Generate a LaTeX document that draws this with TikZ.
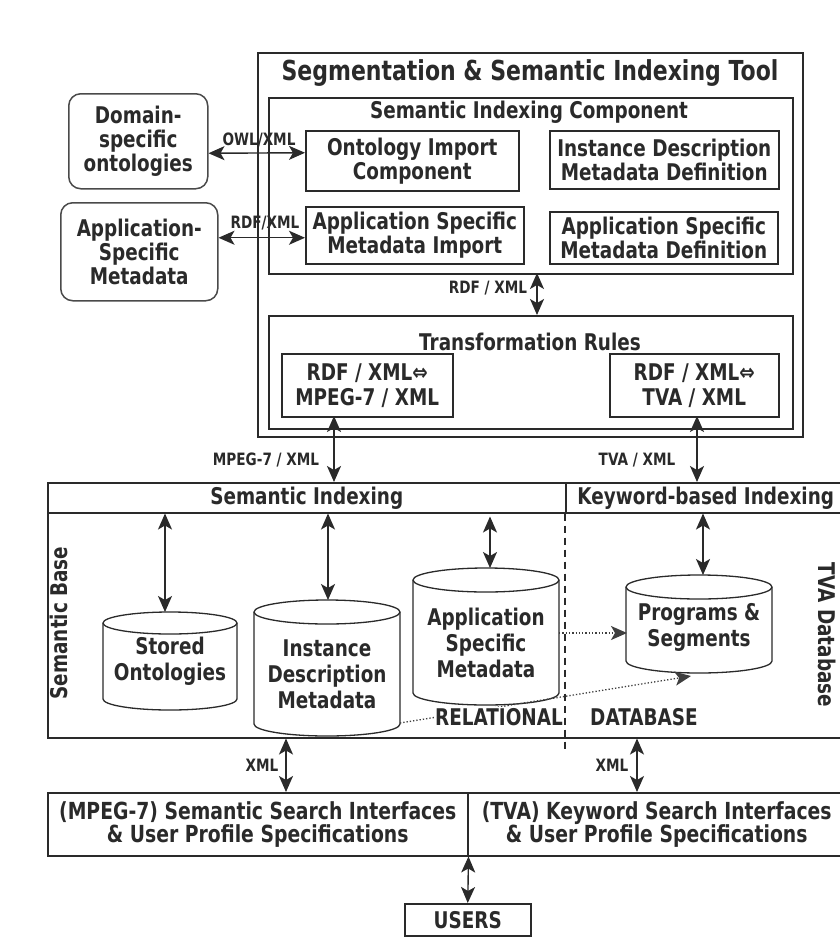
\documentclass[tikz,border=0pt]{standalone}
\usepackage{fontspec}
\setmainfont{DejaVu Sans}[FakeStretch=0.80]
\usetikzlibrary{arrows.meta,calc}
\definecolor{ink}{HTML}{2A2A2A}
\newcommand\cylshape[5]{% cx, cyTop, cyBot, rx, ry
  \draw[cylline, fill=white] (#1-#4,#2) -- (#1-#4,#3) arc[start angle=180, end angle=360, x radius=#4pt, y radius=#5pt] -- (#1+#4,#2) arc[start angle=0, end angle=180, x radius=#4pt, y radius=#5pt] -- cycle;
  \draw[cylline] (#1-#4,#2) arc[start angle=180, end angle=360, x radius=#4pt, y radius=#5pt];}
\begin{document}
\begin{tikzpicture}[x=1pt,y=-1pt,
  every node/.style={text=ink},
  bx/.style={draw=ink, line width=1.5pt, inner sep=0pt, anchor=north west},
  rbx/.style={bx, rounded corners=12pt, draw=ink!85},
  txt/.style={align=center, font=\bfseries\fontsize{23}{24}\selectfont},
  ctxt/.style={align=center, font=\bfseries\fontsize{23}{26}\selectfont},
  lbl/.style={font=\bfseries\fontsize{17}{18}\selectfont, inner sep=0pt},
  arr/.style={{Stealth[length=16pt,width=14pt,inset=4pt]}-{Stealth[length=16pt,width=14pt,inset=4pt]}, line width=1.4pt, draw=ink},
  dotarr/.style={-{Stealth[length=16pt,width=14pt,inset=4pt]}, dotted, line width=1.3pt, draw=ink!90},
  cylline/.style={draw=ink, line width=1.3pt},
]
\useasboundingbox (0,0) rectangle (839,940);
\fill[white] (0,0) rectangle (839,940);

% ---------- Segmentation & Semantic Indexing Tool ----------
\node[bx, minimum width=545pt, minimum height=384pt] (tool) at (257,52) {};
\node[font=\bfseries\fontsize{27.5}{30}\selectfont] (tooltitle) at (530,73) {Segmentation \& Semantic Indexing Tool};

\node[bx, minimum width=524pt, minimum height=176pt] (sic) at (268,97) {};
\node[txt] (sictitle) at (529,112) {Semantic Indexing Component};

\node[bx, txt, minimum width=213pt, minimum height=60pt] (onto) at (305,130) {Ontology Import\\Component};
\node[bx, txt, minimum width=229pt, minimum height=58pt] (inst) at (549,130) {Instance Description\\Metadata Definition};
\node[bx, txt, minimum width=218pt, minimum height=57pt] (asimp) at (305,206) {Application Specific\\Metadata Import};
\node[bx, txt, minimum width=228pt, minimum height=52pt] (asdef) at (549,211) {Application Specific\\Metadata Definition};

\node[bx, minimum width=524pt, minimum height=113pt] (tr) at (268,315) {};
\node[txt] (trtitle) at (530,342) {Transformation Rules};
\node[bx, txt, minimum width=171pt, minimum height=63pt, font=\bfseries\fontsize{23}{25}\selectfont] (mpeg) at (281,353) {RDF / XML⇔\\MPEG-7 / XML};
\node[bx, txt, minimum width=169pt, minimum height=63pt, font=\bfseries\fontsize{23}{25}\selectfont] (tva) at (609,353) {RDF / XML⇔\\TVA / XML};

% ---------- external sources ----------
\node[rbx, txt, minimum width=139pt, minimum height=95pt] (domain) at (68,93) {Domain-\\specific\\ontologies};
\node[rbx, txt, minimum width=157pt, minimum height=98pt] (appmeta) at (60,202) {Application-\\Specific\\Metadata};

\draw[arr] ($(domain.east)+(0,12)$) -- ($(onto.west)+(0,-8)$);
\draw[arr] ($(appmeta.east)+(0,-14)$) -- ($(asimp.west)+(0,2.5)$);
\node[lbl] (owl) at (259,140) {OWL/XML};
\node[lbl] (rdf1) at (265,223) {RDF/XML};

\coordinate (rA) at (537,273);
\draw[arr] (rA) -- (rA |- tr.north);
\node[lbl] (rdf2) at (488,288) {RDF / XML};

% ---------- database ----------
\node[bx, txt, minimum width=518pt, minimum height=30pt] (semhdr) at (47,482) {Semantic Indexing};
\node[bx, txt, minimum width=280pt, minimum height=30pt] (kwhdr) at (565,482) {Keyword-based Indexing};
\node[bx, minimum width=798pt, minimum height=225pt] (dbbody) at (47,512) {};
\coordinate (dashend) at (565,753);
\draw[draw=ink, line width=1.2pt, dash pattern=on 7pt off 5pt] (kwhdr.south west) -- (dashend);

\coordinate (mA) at (334,416);
\draw[arr] (mA) -- (mA |- semhdr.north);
\node[lbl] (mpl) at (266,460) {MPEG-7 / XML};
\coordinate (tA) at (697,416);
\draw[arr] (tA) -- (tA |- kwhdr.north);
\node[lbl] (tvl) at (637,460) {TVA / XML};

\node[txt, rotate=90] (sbase) at (59,623) {Semantic Base};
\node[txt, rotate=-90] (tvadb) at (827,635) {TVA Database};

% cylinders
\cylshape{170}{623}{699}{67}{11}
\node[ctxt] (stored) at (170,661) {Stored\\Ontologies};
\cylshape{327}{612}{724}{73}{12}
\node[ctxt] (instmd) at (327,674) {Instance\\Description\\Metadata};
\cylshape{486}{580}{693}{73}{12}
\node[ctxt] (appmd) at (486,643) {Application\\Specific\\Metadata};
\cylshape{699}{587}{661}{73}{12}
\node[ctxt] (progs) at (699,627) {Programs \&\\Segments};

\coordinate (storedtop) at (165,612);
\coordinate (insttop) at (328,600);
\coordinate (apptop) at (490,568);
\coordinate (progtop) at (703,575);
\draw[arr] (storedtop |- semhdr.south) -- (storedtop);
\draw[arr] (insttop |- semhdr.south) -- (insttop);
\draw[arr] ($(apptop |- semhdr.south)+(0,3)$) -- (apptop);
\draw[arr] (progtop |- kwhdr.south) -- (progtop);

\coordinate (appR) at (559,633);
\coordinate (progL) at (627,633);
\draw[dotarr] (appR) -- (progL);
\coordinate (instR) at (400,723);
\coordinate (progB) at (691,676);
\draw[dotarr] (instR) -- (progB);

\node[txt, fill=white, inner sep=1pt] (rel) at (499,717) {RELATIONAL};
\node[txt, inner sep=1pt] (dbl) at (644,717) {DATABASE};

% ---------- interfaces ----------
\node[bx, txt, minimum width=420pt, minimum height=63pt, font=\bfseries\fontsize{23.5}{23}\selectfont] (semif) at (47,792) {(MPEG-7) Semantic Search Interfaces\\\& User Profile Specifications};
\node[bx, txt, minimum width=378pt, minimum height=63pt, font=\bfseries\fontsize{23.5}{23}\selectfont] (kwif) at (467,792) {(TVA) Keyword Search Interfaces\\\& User Profile Specifications};

\coordinate (xA) at (286,792);
\draw[arr] (xA |- dbbody.south) -- (xA);
\node[lbl] (xl1) at (262,765) {XML};
\coordinate (xB) at (637,792);
\draw[arr] (xB |- dbbody.south) -- (xB);
\node[lbl] (xl2) at (612,765) {XML};

\node[bx, txt, minimum width=126pt, minimum height=32pt] (users) at (404,903) {USERS};
\draw[arr] (semif.south east) -- (users.north);
\end{tikzpicture}
\end{document}
